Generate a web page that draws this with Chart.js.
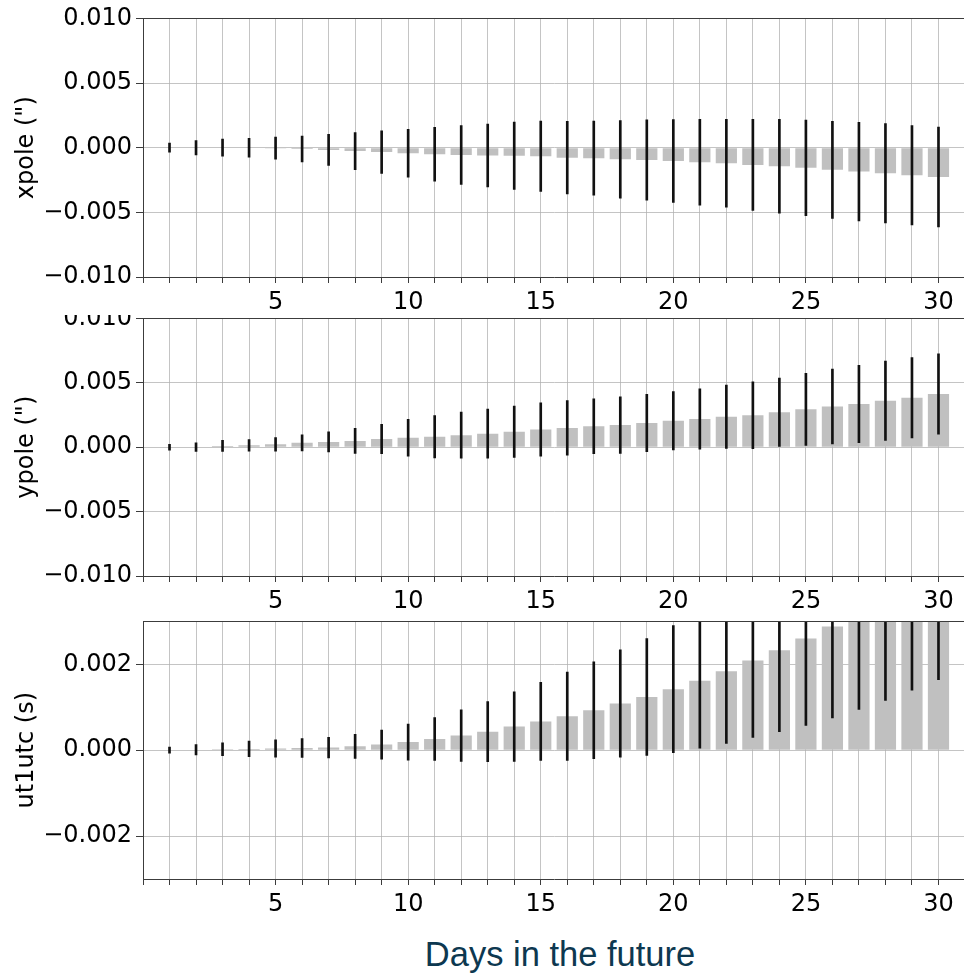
<!DOCTYPE html>
<html>
<head>
<meta charset="utf-8">
<script src="https://cdn.jsdelivr.net/npm/chart.js@4.4.1/dist/chart.umd.min.js"></script>
<style>
  html, body { margin: 0; padding: 0; background: #fff; width: 964px; height: 973px; overflow: hidden; }
  canvas { position: absolute; left: 0; }
  #c1 { top: 0px; z-index: 3; background: #fff; }
  #c2 { top: 300px; z-index: 2; }
  #c3 { top: 603px; z-index: 1; }
  #xtitle { position: absolute; left: 0; width: 1120px; text-align: center; top: 937px;
            font-family: "Liberation Sans", Arial, sans-serif; font-size: 34.5px; line-height: 34.5px;
            color: #0d3850; z-index: 4; }
</style>
</head>
<body>
<canvas id="c1" width="970" height="315"></canvas>
<canvas id="c2" width="970" height="314"></canvas>
<canvas id="c3" width="970" height="314"></canvas>
<div id="xtitle">Days in the future</div>
<script>
// ---- data ----
const days = [1,2,3,4,5,6,7,8,9,10,11,12,13,14,15,16,17,18,19,20,21,22,23,24,25,26,27,28,29,30];

const xpoleValues = [0,0,0,0,-0.00003,-0.0001,-0.00017,-0.00026,-0.00034,-0.00043,-0.0005,-0.00056,-0.0006,-0.00062,-0.00067,
  -0.00077,-0.00081,-0.0009,-0.00095,-0.00103,-0.00112,-0.0012,-0.00133,-0.00143,-0.00156,-0.00171,-0.00185,-0.00198,-0.00213,-0.00226];
const xpoleErrors = [0.00035,0.00055,0.00066,0.00073,0.00086,0.001,0.0012,0.00143,0.00165,0.00185,0.00208,0.00228,0.00243,0.0026,0.00272,
  0.0028,0.00287,0.003,0.00311,0.0032,0.00332,0.0034,0.00353,0.00363,0.0037,0.00375,0.00381,0.00384,0.00384,0.00386];

const ypoleValues = [0,0,0.0001,0.00015,0.00022,0.00034,0.00041,0.00049,0.00063,0.00073,0.00081,0.00093,0.00105,0.0012,0.00137,
  0.0015,0.00162,0.00172,0.00188,0.00205,0.00219,0.00236,0.00248,0.00271,0.00294,0.00316,0.00336,0.0036,0.00384,0.00413];
const ypoleErrors = [0.00023,0.00033,0.00043,0.00045,0.00052,0.00063,0.00078,0.00097,0.00114,0.00143,0.00164,0.00179,0.0019,0.002,0.00207,
  0.00211,0.00213,0.0022,0.00222,0.00227,0.00234,0.00246,0.00259,0.00265,0.0028,0.00291,0.003,0.00308,0.00312,0.00312];

const ut1utcValues = [0,0.00001,0.00002,0.00003,0.00004,0.00005,0.00006,0.00009,0.00013,0.00019,0.00026,0.00034,0.00043,0.00055,0.00067,
  0.00079,0.00093,0.00109,0.00124,0.00142,0.00162,0.00184,0.00209,0.00233,0.0026,0.00288,0.00318,0.0035,0.00385,0.0042];
const ut1utcErrors = [0.00007,0.00012,0.00015,0.00018,0.0002,0.00022,0.00024,0.00028,0.00034,0.00042,0.0005,0.0006,0.0007,0.00081,0.00091,
  0.00103,0.00113,0.00125,0.00136,0.00148,0.00157,0.00168,0.00179,0.0019,0.00202,0.00213,0.00223,0.00234,0.00245,0.00256];

const xTickValues = [0,1,2,3,4,5,6,7,8,9,10,11,12,13,14,15,16,17,18,19,20,21,22,23,24,25,26,27,28,29,30,31];
const xpoleTicks = [-0.01,-0.005,0,0.005,0.01];
const ypoleTicks = [-0.01,-0.005,0,0.005,0.01];
const ut1utcTicks = [-0.002,0,0.002];

// ---- styling ----
const FONT = 'DejaVu Sans';
const SPINE = '#3c3c3c';
const GRID = 'rgba(176,176,176,0.75)';

const topSpine = {
  id: 'topSpine',
  afterDraw(chart) {
    const {ctx, chartArea} = chart;
    ctx.save();
    ctx.strokeStyle = SPINE;
    ctx.lineWidth = 1;
    const y = Math.round(chartArea.top) + 0.5;
    ctx.beginPath();
    ctx.moveTo(chartArea.left, y);
    ctx.lineTo(chartArea.right + 2, y);
    ctx.stroke();
    ctx.restore();
  }
};

function fmt(v) {
  if (Math.abs(v) < 1e-12) return '0.000';
  return (v < 0 ? '\u2212' : '') + Math.abs(v).toFixed(3);
}

function makePanel(id, values, errors, yMin, yMax, yTicks, yLabel) {
  const barData = days.map((d, i) => ({x: d, y: values[i]}));
  const errData = days.map((d, i) => ({x: d, y: [values[i] - errors[i], values[i] + errors[i]]}));
  new Chart(document.getElementById(id), {
    type: 'bar',
    data: {
      datasets: [
        { data: errData, backgroundColor: '#111111', barThickness: 2, grouped: false, borderWidth: 0, borderSkipped: false },
        { data: barData, backgroundColor: '#c0c0c0', barPercentage: 0.8, categoryPercentage: 1.0, grouped: false, borderWidth: 0 }
      ]
    },
    options: {
      responsive: false,
      animation: false,
      devicePixelRatio: 1,
      layout: { padding: { top: 18, left: 0, right: 0, bottom: 0 } },
      plugins: { legend: { display: false }, tooltip: { enabled: false } },
      scales: {
        x: {
          type: 'linear',
          min: 0, max: 31,
          offset: false,
          afterBuildTicks: (s) => { s.ticks = xTickValues.map(v => ({value: v})); },
          afterFit: (s) => { s.height = 38; },
          ticks: {
            autoSkip: false, maxRotation: 0, minRotation: 0, padding: 5,
            color: '#000', font: { family: FONT, size: 24 },
            callback: (v) => (v > 0 && v % 5 === 0 && v <= 30) ? String(v) : ''
          },
          grid: { offset: false, color: GRID, lineWidth: 1, tickColor: SPINE, tickLength: 6, drawTicks: true },
          border: { color: SPINE, width: 1 }
        },
        y: {
          min: yMin, max: yMax,
          afterBuildTicks: (s) => { s.ticks = yTicks.map(v => ({value: v})); },
          afterFit: (s) => { s.width = 143; },
          ticks: { padding: 4, color: '#000', font: { family: FONT, size: 24 }, callback: (v) => fmt(v) },
          grid: { color: GRID, lineWidth: 1, tickColor: SPINE, tickLength: 7 },
          border: { color: SPINE, width: 1 },
          title: { display: true, text: yLabel, color: '#000', font: { family: FONT, size: 24 }, padding: { top: 12.6, bottom: 0 } }
        }
      }
    },
    plugins: [topSpine]
  });
}

makePanel('c1', xpoleValues, xpoleErrors, -0.01, 0.01, xpoleTicks, 'xpole (")');
makePanel('c2', ypoleValues, ypoleErrors, -0.01, 0.01, ypoleTicks, 'ypole (")');
makePanel('c3', ut1utcValues, ut1utcErrors, -0.003, 0.003, ut1utcTicks, 'ut1utc (s)');
</script>
</body>
</html>
